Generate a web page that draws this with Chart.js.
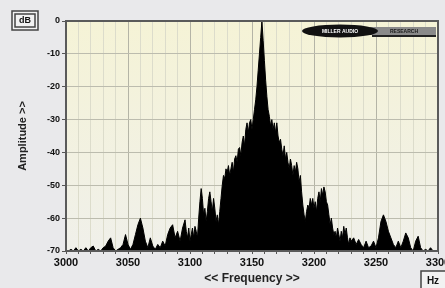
<!DOCTYPE html>
<html>
<head>
<meta charset="utf-8">
<script src="https://cdn.jsdelivr.net/npm/chart.js@4"></script>
<style>
  body { margin: 0; background: #e9e9eb; }
  canvas { display: block; }
</style>
</head>
<body>
<canvas id="spectrumChart" width="445" height="288"></canvas>
<script>
// Spectrum data (Hz, dB)
const freqs = [
  3000, 3002, 3004, 3006, 3008, 3010, 3012, 3014, 3016, 3018,
  3020, 3022, 3024, 3026, 3028, 3030, 3032, 3034, 3036, 3038,
  3040, 3042, 3044, 3046, 3048, 3050, 3052, 3054, 3056, 3058,
  3060, 3062, 3064, 3066, 3068, 3070, 3072, 3074, 3076, 3078,
  3080, 3082, 3084, 3086, 3088, 3090, 3092, 3094,
  3096, 3097, 3098, 3099, 3100, 3101, 3102, 3103, 3104, 3105,
  3106, 3107, 3108, 3109, 3110, 3111, 3112, 3113, 3114, 3115,
  3116, 3117, 3118, 3119, 3120, 3121, 3122, 3123, 3124, 3125,
  3126, 3127, 3128, 3129, 3130, 3131, 3132, 3133, 3134, 3135,
  3136, 3137, 3138, 3139, 3140, 3141, 3142, 3143, 3144, 3145,
  3146, 3147, 3148, 3149, 3150, 3151, 3152, 3153, 3154, 3155,
  3156, 3157, 3158, 3159, 3160, 3161, 3162, 3163, 3164, 3165,
  3166, 3167, 3168, 3169, 3170, 3171, 3172, 3173, 3174, 3175,
  3176, 3177, 3178, 3179, 3180, 3181, 3182, 3183, 3184, 3185,
  3186, 3187, 3188, 3189, 3190, 3191, 3192, 3193, 3194, 3195,
  3196, 3197, 3198, 3199, 3200, 3201, 3202, 3203, 3204, 3205,
  3206, 3207, 3208, 3209, 3210, 3211, 3212, 3213, 3214, 3215,
  3216, 3217, 3218, 3219, 3220, 3221, 3222, 3223, 3224, 3225,
  3226, 3227, 3228, 3229, 3230,
  3232, 3234, 3236, 3238, 3240, 3242, 3244, 3246, 3248, 3250,
  3252, 3254, 3256, 3258, 3260, 3262, 3264, 3266, 3268, 3270,
  3272, 3274, 3276, 3278, 3280, 3282, 3284, 3286, 3288, 3290,
  3292, 3294, 3296, 3298, 3300
];
const amplitude = [
  -70, -70, -69.5, -70, -69, -70, -69.5, -70, -69, -70,
  -69, -68.5, -70, -69.5, -70, -69, -68.5, -67, -66, -69,
  -70, -69.5, -69, -68, -65, -68, -69.5, -68, -65, -62,
  -60, -63, -67, -69, -66, -68.5, -69.5, -68, -69, -67,
  -68.5, -65, -63, -62, -66, -64, -67, -63,
  -60.5, -64, -66, -63, -67, -65, -63, -66, -62.5, -64,
  -66, -60, -55, -51, -54, -59, -57, -61, -58, -54,
  -52, -55, -58, -54, -57, -61, -59, -62, -58, -54,
  -50, -47, -48, -45, -46, -44, -47, -45, -43, -46,
  -42, -41, -43, -39, -38.5, -41, -37, -35, -38, -33,
  -31, -34, -31, -30, -33, -30, -27, -24, -20, -15,
  -10, -5, 0, -6, -12, -18, -23, -27, -29, -32,
  -30, -33, -31, -34, -31, -35, -37, -36, -39, -41,
  -38, -42, -40, -43, -45, -42, -44, -47, -44, -46,
  -43, -45, -49, -47, -52, -56, -59, -61, -58, -56,
  -57, -54, -56, -54, -57, -55, -58, -54, -52, -55,
  -51, -53, -50.5, -52, -55, -56, -59, -62, -60, -63,
  -65, -64, -66, -63, -65, -67, -64, -66, -62.5, -65,
  -63, -66, -68, -66, -67,
  -66, -68, -66.5, -68, -69, -67, -69, -68.5, -67, -69,
  -66, -61, -59, -61, -64, -66, -68, -69, -67, -69,
  -67, -64.5, -66, -69, -70, -67, -65.5, -69, -70, -69.5,
  -70, -69, -70, -70, -70
];
const yTicks = [0, -10, -20, -30, -40, -50, -60, -70];

const points = freqs.map((f, i) => ({ x: f, y: amplitude[i] }));
const font = '"Liberation Sans", Arial, sans-serif';

// plot background + frame + extra labels
const decorPlugin = {
    id: 'decor',
    beforeDraw(chart) {
        const ctx = chart.ctx;
        const a = chart.chartArea;
        ctx.save();
        const g = ctx.createLinearGradient(0, a.top, 0, a.bottom);
        g.addColorStop(0, '#f5f3d6');
        g.addColorStop(1, '#f0f0ea');
        ctx.fillStyle = g;
        ctx.fillRect(a.left, a.top, a.right - a.left, a.bottom - a.top);
        ctx.restore();
    },
    afterDraw(chart) {
        const ctx = chart.ctx;
        const a = chart.chartArea;
        ctx.save();
        // frame
        ctx.strokeStyle = '#5a5a5a';
        ctx.lineWidth = 2;
        ctx.strokeRect(a.left, a.top, a.right - a.left, a.bottom - a.top);

        // dB box
        ctx.fillStyle = '#f2f2f2';
        ctx.fillRect(12, 11, 26, 19);
        ctx.strokeStyle = '#444';
        ctx.lineWidth = 1.5;
        ctx.strokeRect(12, 11, 26, 19);
        ctx.strokeRect(15, 14, 20, 13);
        ctx.fillStyle = '#111';
        ctx.font = 'bold 9px ' + font;
        ctx.textAlign = 'center';
        ctx.textBaseline = 'middle';
        ctx.fillText('dB', 25, 21);

        // Hz box
        ctx.fillStyle = '#f2f2f2';
        ctx.fillRect(421, 271, 26, 19);
        ctx.strokeStyle = '#444';
        ctx.strokeRect(421, 271, 26, 19);
        ctx.fillStyle = '#111';
        ctx.font = 'bold 10px ' + font;
        ctx.fillText('Hz', 433, 281);

        // logo
        ctx.fillStyle = '#8a8a8a';
        ctx.fillRect(370, 27, 66, 8);
        ctx.fillStyle = '#222';
        ctx.fillRect(372, 35, 64, 2);
        ctx.beginPath();
        ctx.ellipse(340, 31, 38, 6.5, 0, 0, Math.PI * 2);
        ctx.fillStyle = '#111';
        ctx.fill();
        ctx.fillStyle = '#fff';
        ctx.font = 'bold 5px ' + font;
        ctx.fillText('MILLER AUDIO', 340, 31.5);
        ctx.fillStyle = '#1a1a1a';
        ctx.fillText('RESEARCH', 404, 31.5);
        ctx.restore();
    }
};

const ctx = document.getElementById('spectrumChart').getContext('2d');
const spectrumChart = new Chart(ctx, {
    type: 'line',
    data: {
        datasets: [{
            data: points,
            borderColor: '#000',
            backgroundColor: '#000',
            borderWidth: 1,
            pointRadius: 0,
            tension: 0,
            fill: 'start'
        }]
    },
    options: {
        responsive: false,
        animation: false,
        layout: { padding: { top: 21, right: 7, left: 0, bottom: 0 } },
        plugins: {
            legend: { display: false },
            tooltip: { enabled: false }
        },
        scales: {
            x: {
                type: 'linear',
                min: 3000,
                max: 3300,
                afterFit(scale) {
                    scale.height = 37;
                    scale.paddingLeft = 0;
                    scale.paddingRight = 0;
                },
                ticks: {
                    stepSize: 10,
                    autoSkip: false,
                    maxRotation: 0,
                    padding: 2,
                    color: '#111',
                    font: { family: font, size: 11, weight: 'bold' },
                    callback: v => (v % 50 === 0 ? String(v) : '')
                },
                grid: {
                    color: c => (c.tick && c.tick.value % 50 === 0 ? '#b4b4a6' : '#dcdccb'),
                    tickLength: 3,
                    tickColor: '#555'
                },
                border: { color: '#5a5a5a', width: 2 },
                title: {
                    display: true,
                    text: '<< Frequency >>',
                    color: '#222',
                    padding: { top: 0, bottom: 2 },
                    font: { family: font, size: 12, weight: 'bold' }
                }
            },
            y: {
                min: -70,
                max: 0,
                afterFit(scale) { scale.width = 66; },
                afterBuildTicks(scale) { scale.ticks = yTicks.map(v => ({ value: v })); },
                ticks: {
                    padding: 2,
                    color: '#111',
                    font: { family: font, size: 9, weight: 'bold' }
                },
                grid: {
                    color: '#bcbcae',
                    tickLength: 4,
                    tickColor: '#555'
                },
                border: { color: '#5a5a5a', width: 2 },
                title: {
                    display: true,
                    text: 'Amplitude >>',
                    color: '#222',
                    padding: { top: 16, bottom: 0 },
                    font: { family: font, size: 11, weight: 'bold' }
                }
            }
        }
    },
    plugins: [decorPlugin]
});
</script>
</body>
</html>
